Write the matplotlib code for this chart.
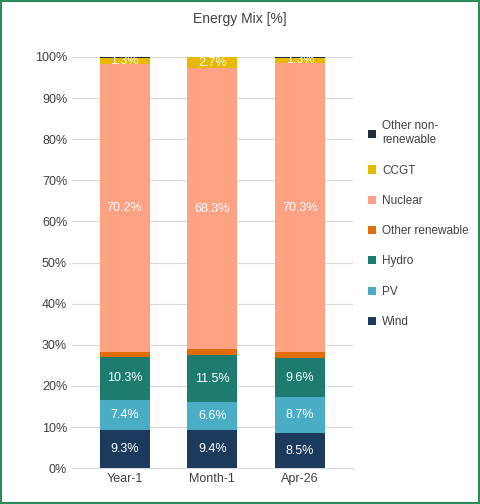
import matplotlib.pyplot as plt
from matplotlib.patches import Rectangle

plt.rcParams['font.family'] = ['Liberation Sans', 'DejaVu Sans']

periods = ['Year-1', 'Month-1', 'Apr-26']
series = ['Wind', 'PV', 'Hydro', 'Other renewable', 'Nuclear', 'CCGT', 'Other non-\nrenewable']
wind = [9.3, 9.4, 8.5]
pv = [7.4, 6.6, 8.7]
hydro = [10.3, 11.5, 9.6]
other_ren = [1.2, 1.4, 1.4]
nuclear = [70.2, 68.3, 70.3]
ccgt = [1.3, 2.7, 1.3]
other_nonren = [0.3, 0.1, 0.2]
values = [wind, pv, hydro, other_ren, nuclear, ccgt, other_nonren]
colors = ['#1b3a5c', '#4bacc6', '#1e7b70', '#e36c0a', '#ffa283', '#e6b800', '#1f2d3d']
labelled = [0, 1, 2, 4, 5]

fig = plt.figure(figsize=(4.8, 5.04), dpi=100)
fig.patches.append(Rectangle((0.002, 0.002), 0.996, 0.996, transform=fig.transFigure,
                             fill=False, edgecolor='#2e8b57', linewidth=1.5))
ax = fig.add_axes([0.15, 0.071, 0.585, 0.816])

x = range(len(periods))
bottom = [0, 0, 0]
handles = []
for i, (name, vals, c) in enumerate(zip(series, values, colors)):
    h = ax.bar(x, vals, 0.57, bottom=bottom, color=c, label=name, zorder=3)
    handles.append(h)
    if i in labelled:
        for j, v in enumerate(vals):
            ax.text(j, bottom[j] + v / 2, f'{v:.1f}%', ha='center', va='center',
                    color='white', fontsize=9, zorder=4)
    bottom = [b + v for b, v in zip(bottom, vals)]

ax.set_ylim(0, 100)
ax.set_xlim(-0.6, 2.6)
ax.set_yticks(range(0, 101, 10))
ax.set_yticklabels([f'{t}%' for t in range(0, 101, 10)], fontsize=9, color='#404040')
ax.set_xticks(list(x))
ax.set_xticklabels(periods, fontsize=9, color='#404040')
ax.tick_params(length=0)
ax.grid(axis='y', color='#d9d9d9', linewidth=0.8, zorder=0)
for s in ['top', 'right', 'left']:
    ax.spines[s].set_visible(False)
ax.spines['bottom'].set_color('#d9d9d9')

fig.text(0.5, 0.962, 'Energy Mix [%]', ha='center', va='center', fontsize=10, color='#404040')
fig.legend(handles[::-1], series[::-1], loc='center left', bbox_to_anchor=(0.745, 0.555),
           frameon=False, fontsize=8.5, handlelength=0.7, handleheight=0.7,
           handletextpad=0.5, labelspacing=1.55, labelcolor='#404040')

fig.savefig('out.png', dpi=100)
